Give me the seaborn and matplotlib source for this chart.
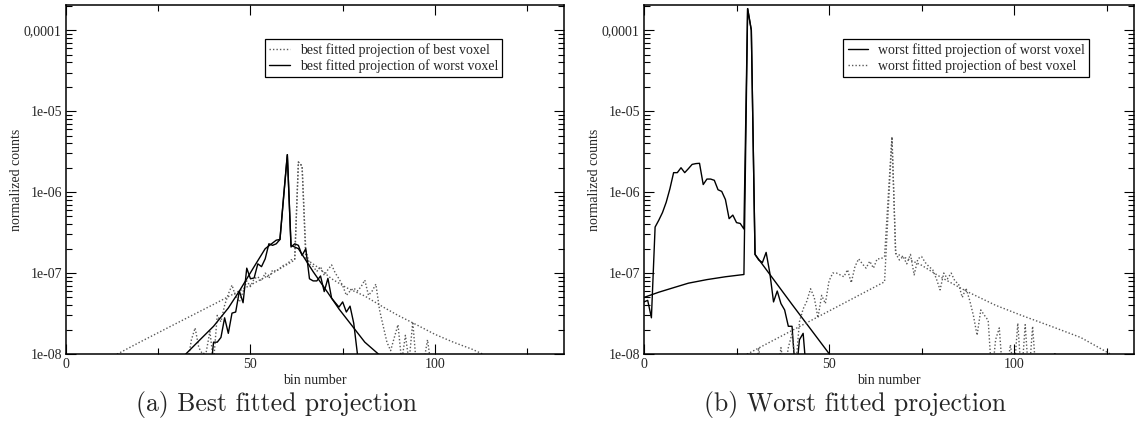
import numpy as np
import pandas as pd
import matplotlib
matplotlib.use("Agg")
import matplotlib.pyplot as plt
import seaborn as sns
from matplotlib.ticker import FixedLocator, FixedFormatter, LogLocator, NullFormatter
from matplotlib.lines import Line2D

# ---------------- data ----------------
# (a) best fitted projection
a_best_bins = list(range(32, 101))
a_best_vals = [5e-9, 8e-9, 1.5e-8, 2.1e-8, 1.2e-8, 1.0e-8, 1.05e-8, 1.9e-8, 8e-9, 3.0e-8,
               2.5e-8, 4.0e-8, 5.5e-8, 7.1e-8, 5.1e-8, 4.4e-8, 5.9e-8, 8.0e-8, 6.8e-8, 8.5e-8,
               9.0e-8, 8.0e-8, 1.0e-7, 8.6e-8, 1.09e-7, 1.05e-7, 1.15e-7, 1.25e-7, 1.3e-7, 1.45e-7,
               1.5e-7, 2.35e-6, 2.1e-6, 1.9e-7, 1.3e-7, 1.2e-7, 1.05e-7, 1.2e-7, 9.4e-8, 1.1e-7,
               1.26e-7, 1.0e-7, 8.5e-8, 7.0e-8, 5.3e-8, 6.0e-8, 6.5e-8, 6.0e-8, 6.8e-8, 8.2e-8,
               5.3e-8, 6.0e-8, 7.3e-8, 3.5e-8, 2.2e-8, 1.4e-8, 1.1e-8, 1.6e-8, 2.3e-8, 8e-9,
               1.7e-8, 8e-9, 2.5e-8, 7e-9, 5e-9, 8e-9, 1.5e-8, 7e-9, 5e-9]
a_best_fit_bins = [13, 20, 30, 40, 50, 56, 62, 63, 64, 65, 68, 72, 76, 81, 86, 90, 95, 100, 105, 110, 114]
a_best_fit_vals = [9.5e-9, 1.4e-8, 2.4e-8, 4.1e-8, 7.1e-8, 1.0e-7, 1.45e-7, 2.35e-6, 2.1e-6, 1.5e-7,
                   1.2e-7, 8.5e-8, 6.6e-8, 5.2e-8, 3.8e-8, 3.0e-8, 2.3e-8, 1.75e-8, 1.4e-8, 1.15e-8, 9.5e-9]

a_worst_bins = list(range(39, 81))
a_worst_vals = [5e-9, 1.4e-8, 1.4e-8, 1.6e-8, 2.8e-8, 1.8e-8, 3.2e-8, 3.3e-8, 6.0e-8, 4.3e-8,
                1.15e-7, 8.5e-8, 8.7e-8, 1.3e-7, 1.2e-7, 1.5e-7, 2.3e-7, 2.2e-7, 2.3e-7, 2.6e-7,
                9e-7, 2.9e-6, 2.1e-7, 2.3e-7, 2.2e-7, 1.65e-7, 2.0e-7, 8.5e-8, 8.0e-8, 8.0e-8,
                9.2e-8, 5.9e-8, 8.6e-8, 4.9e-8, 4.3e-8, 3.8e-8, 4.4e-8, 3.3e-8, 3.9e-8, 2.4e-8,
                1.0e-8, 5e-9]
a_worst_fit_bins = [32, 36, 40, 44, 47, 51, 54, 57, 58, 60, 61, 63, 67, 71, 74, 78, 81, 85]
a_worst_fit_vals = [9.5e-9, 1.45e-8, 2.2e-8, 3.7e-8, 6.0e-8, 1.2e-7, 2.0e-7, 2.55e-7, 2.6e-7, 2.9e-6,
                    2.2e-7, 2.0e-7, 1.04e-7, 5.7e-8, 3.6e-8, 2.1e-8, 1.4e-8, 9.7e-9]

# (b) worst fitted projection
b_worst_bins = list(range(0, 45))
b_worst_vals = [4.4e-8, 4.6e-8, 2.8e-8, 3.7e-7, 4.5e-7, 5.6e-7, 7.5e-7, 1.1e-6, 1.74e-6, 1.74e-6,
                2.0e-6, 1.74e-6, 1.95e-6, 2.2e-6, 2.25e-6, 2.27e-6, 1.24e-6, 1.45e-6, 1.45e-6, 1.4e-6,
                1.07e-6, 1.02e-6, 8.1e-7, 4.7e-7, 5.2e-7, 4.2e-7, 4.1e-7, 3.5e-7, 1.85e-4, 1.0e-4,
                1.7e-7, 1.45e-7, 1.35e-7, 1.8e-7, 1.0e-7, 4.4e-8, 6.0e-8, 4.2e-8, 3.5e-8, 2.2e-8,
                2.2e-8, 5e-9, 1.5e-8, 1.8e-8, 5e-9]
b_worst_fit_bins = [0, 4, 8, 12, 17, 22, 27, 28, 29, 30, 40, 51]
b_worst_fit_vals = [5.0e-8, 5.8e-8, 6.6e-8, 7.5e-8, 8.3e-8, 9.0e-8, 9.6e-8, 1.85e-4, 1.0e-4, 1.7e-7,
                    4.1e-8, 8.8e-9]

b_best_bins = list(range(30, 113))
b_best_vals = [5e-9, 1.2e-8, 5e-9, 5e-9, 5e-9, 5e-9, 5e-9, 1.2e-8, 6e-9, 1.2e-8,
               1.8e-8, 7e-9, 2.5e-8, 3.6e-8, 4.5e-8, 6.4e-8, 5.0e-8, 2.8e-8, 5.3e-8, 4.2e-8,
               8.0e-8, 1.0e-7, 1.0e-7, 9.5e-8, 9.0e-8, 1.1e-7, 7.6e-8, 1.2e-7, 1.5e-7, 1.3e-7,
               1.15e-7, 1.4e-7, 1.15e-7, 1.5e-7, 1.5e-7, 1.6e-7, 9e-7, 4.8e-6, 1.75e-7, 1.45e-7,
               1.6e-7, 1.3e-7, 1.7e-7, 9.5e-8, 1.5e-7, 1.6e-7, 1.35e-7, 1.2e-7, 1.1e-7, 8.5e-8,
               6.2e-8, 1.0e-7, 8.5e-8, 1.0e-7, 8.0e-8, 7.3e-8, 5.0e-8, 6.5e-8, 4.6e-8, 3.0e-8,
               1.7e-8, 3.5e-8, 3.0e-8, 2.6e-8, 5e-9, 1.5e-8, 2.1e-8, 5e-9, 6e-9, 1.3e-8,
               6e-9, 2.4e-8, 5e-9, 2.3e-8, 5e-9, 2.2e-8, 5e-9, 5e-9, 5e-9, 5e-9,
               5e-9, 1.05e-8, 5e-9]
b_best_fit_bins = [27, 65, 67, 68, 75, 80, 87, 95, 102, 110, 118, 126, 127]
b_best_fit_vals = [9.5e-9, 7.8e-8, 4.8e-6, 1.75e-7, 1.25e-7, 9.0e-8, 6.0e-8, 4.0e-8, 3.0e-8, 2.2e-8,
                   1.6e-8, 1.0e-8, 9.5e-9]

y_tick_vals = [1e-8, 1e-7, 1e-6, 1e-5, 1e-4]
y_tick_labels = ["1e-08", "1e-07", "1e-06", "1e-05", "0,0001"]
x_tick_vals = [0, 50, 100]
x_tick_labels = ["0", "50", "100"]

legend_a = ["best fitted projection of best voxel", "best fitted projection of worst voxel"]
legend_b = ["worst fitted projection of worst voxel", "worst fitted projection of best voxel"]
captions = ["(a) Best fitted projection", "(b) Worst fitted projection"]

# ---------------- styling ----------------
sns.set_style("ticks")
plt.rcParams['font.family'] = ['Liberation Serif', 'DejaVu Serif']
plt.rcParams['mathtext.fontset'] = 'cm'

SERIF = ['Liberation Serif', 'DejaVu Serif']
DOT = (0, (1, 1.5))
GRAY = '0.35'

fig = plt.figure(figsize=(11.48, 4.34), dpi=100)
axA = fig.add_axes([66 / 1148, 1 - 354 / 434, (564 - 66) / 1148, 349 / 434])
axB = fig.add_axes([644 / 1148, 1 - 354 / 434, (1134 - 644) / 1148, 349 / 434])


def draw(ax, bins, vals, solid):
    df = pd.DataFrame({"bin": bins, "val": vals})
    if solid:
        sns.lineplot(data=df, x="bin", y="val", ax=ax, color='black', linewidth=1.0,
                     estimator=None, sort=False, legend=False)
    else:
        sns.lineplot(data=df, x="bin", y="val", ax=ax, color=GRAY, linewidth=1.0,
                     linestyle=DOT, estimator=None, sort=False, legend=False)


draw(axA, a_best_bins, a_best_vals, False)
draw(axA, a_best_fit_bins, a_best_fit_vals, False)
draw(axA, a_worst_bins, a_worst_vals, True)
draw(axA, a_worst_fit_bins, a_worst_fit_vals, True)

draw(axB, b_worst_bins, b_worst_vals, True)
draw(axB, b_worst_fit_bins, b_worst_fit_vals, True)
draw(axB, b_best_bins, b_best_vals, False)
draw(axB, b_best_fit_bins, b_best_fit_vals, False)

for ax, xmax in ((axA, 135), (axB, 132.4)):
    ax.set_yscale('log')
    ax.set_xlim(0, xmax)
    ax.set_ylim(1e-8, 2.05e-4)
    ax.yaxis.set_major_locator(FixedLocator(y_tick_vals))
    ax.yaxis.set_major_formatter(FixedFormatter(y_tick_labels))
    ax.yaxis.set_minor_locator(LogLocator(base=10, subs=np.arange(2, 10)))
    ax.yaxis.set_minor_formatter(NullFormatter())
    ax.xaxis.set_major_locator(FixedLocator(x_tick_vals))
    ax.xaxis.set_major_formatter(FixedFormatter(x_tick_labels))
    ax.xaxis.set_minor_locator(FixedLocator([25, 75, 125]))
    ax.tick_params(which='both', direction='in', top=True, right=True,
                   color='black', width=0.8)
    ax.tick_params(which='major', length=7, labelsize=10, pad=3)
    ax.tick_params(which='minor', length=4)
    for lab in ax.get_xticklabels() + ax.get_yticklabels():
        lab.set_family(SERIF)
    for s in ax.spines.values():
        s.set_color('black')
        s.set_linewidth(1.1)
    ax.set_xlabel("bin number", fontsize=10, family=SERIF, labelpad=2)
    ax.set_ylabel("normalized counts", fontsize=10, family=SERIF, labelpad=1)
    ax.set_facecolor('white')

hA = [Line2D([], [], color=GRAY, lw=1.0, linestyle=DOT),
      Line2D([], [], color='black', lw=1.0)]
hB = [Line2D([], [], color='black', lw=1.0),
      Line2D([], [], color=GRAY, lw=1.0, linestyle=DOT)]
for ax, h, labels, x0 in ((axA, hA, legend_a, 0.40), (axB, hB, legend_b, 0.407)):
    leg = ax.legend(h, labels, loc='upper left', bbox_to_anchor=(x0, 0.902),
                    prop={'family': SERIF, 'size': 10}, frameon=True, fancybox=False,
                    framealpha=1, edgecolor='black', handlelength=1.5, handletextpad=0.7,
                    borderpad=0.3, labelspacing=0.12, borderaxespad=0)
    leg.get_frame().set_linewidth(0.9)

fig.text(277 / 1148, 1 - 405 / 434, captions[0], ha='center', va='center',
         fontsize=18.5, family=['cmr10', 'DejaVu Serif'])
fig.text(855 / 1148, 1 - 405 / 434, captions[1], ha='center', va='center',
         fontsize=18.5, family=['cmr10', 'DejaVu Serif'])

fig.savefig("out.png", dpi=100, facecolor='white')
